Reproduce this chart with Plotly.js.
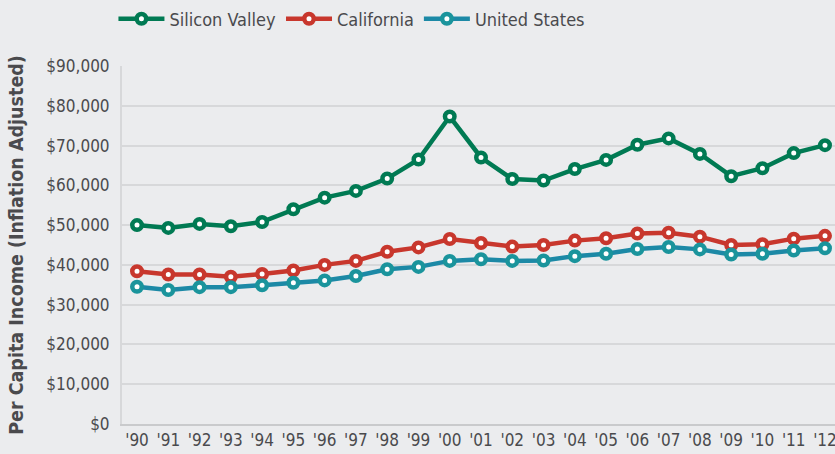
<!DOCTYPE html>
<html><head><meta charset="utf-8">
<script src="https://cdn.plot.ly/plotly-3.0.1.min.js"></script>
<style>body{margin:0;background:#EBECEE}#c{width:835px;height:454px}</style>
</head><body><div id="c"></div>
<script>
const years = [1990,1991,1992,1993,1994,1995,1996,1997,1998,1999,2000,2001,2002,2003,2004,2005,2006,2007,2008,2009,2010,2011,2012];
const tickLabels = ["'90","'91","'92","'93","'94","'95","'96","'97","'98","'99","'00","'01","'02","'03","'04","'05","'06","'07","'08","'09","'10","'11","'12"];
const siliconValley = [50000,49300,50300,49700,50800,54000,56900,58600,61700,66500,77300,67000,61600,61200,64100,66400,70200,71800,67900,62300,64300,68100,70100];
const california = [38400,37600,37600,37000,37700,38600,40000,41000,43300,44400,46500,45500,44600,45000,46100,46700,47900,48100,47100,45000,45200,46600,47300];
const unitedStates = [34500,33700,34400,34400,34900,35500,36100,37200,38900,39500,41000,41400,41000,41100,42200,42800,44000,44500,43900,42600,42800,43600,44200];
const yTicks = [0,10000,20000,30000,40000,50000,60000,70000,80000,90000];
const yTickText = ["$0","$10,000","$20,000","$30,000","$40,000","$50,000","$60,000","$70,000","$80,000","$90,000"];

const FONT = '"Liberation Sans Narrow", "DejaVu Sans Condensed", sans-serif';
function series(name, y, color, lineColor){
  return {x: years, y: y, name: name, type:'scatter', mode:'lines+markers',
    line:{color: lineColor||color, width:4.5},
    marker:{symbol:'circle', size:9.5, color:'#ffffff', line:{color:color, width:4.5}}};
}
const data = [
  series('Silicon Valley', siliconValley, '#007A53'),
  series('California', california, '#C8372D'),
  series('United States', unitedStates, '#1A949C', '#1C89A6')
];
const layout = {
  width:835, height:454,
  paper_bgcolor:'#EBECEE', plot_bgcolor:'#EBECEE',
  margin:{l:122, r:0, t:66, b:30, autoexpand:false},
  font:{family:FONT, color:'#4A4A4D', size:17},
  showlegend:true,
  legend:{orientation:'h', x:-0.012, y:1.131, xanchor:'left', yanchor:'middle',
    font:{family:FONT, size:18, color:'#4A4A4D'}, bgcolor:'rgba(0,0,0,0)', itemwidth:46},
  xaxis:{range:[1989.52, 2012.32], tickvals: years, ticktext: tickLabels, showgrid:false,
    zeroline:false, showline:true, linecolor:'#C9CACC', linewidth:2, ticks:'', tickfont:{size:17},
    ticklabeloverflow:'allow', automargin:false},
  yaxis:{range:[0,90000], tickvals: yTicks, ticktext: yTickText, showgrid:true, gridcolor:'#D7D8DA', gridwidth:2,
    zeroline:false, showline:true, linecolor:'#D7D8DA', linewidth:2, ticks:'', tickfont:{size:17},
    ticklabelstandoff:7, automargin:false,
    title:{text:'<b>Per Capita Income (Inflation Adjusted)</b>', font:{size:19.5, color:'#4A4A4D'}, standoff:18}},
};
Plotly.newPlot('c', data, layout, {staticPlot:true, displayModeBar:false});
</script></body></html>
